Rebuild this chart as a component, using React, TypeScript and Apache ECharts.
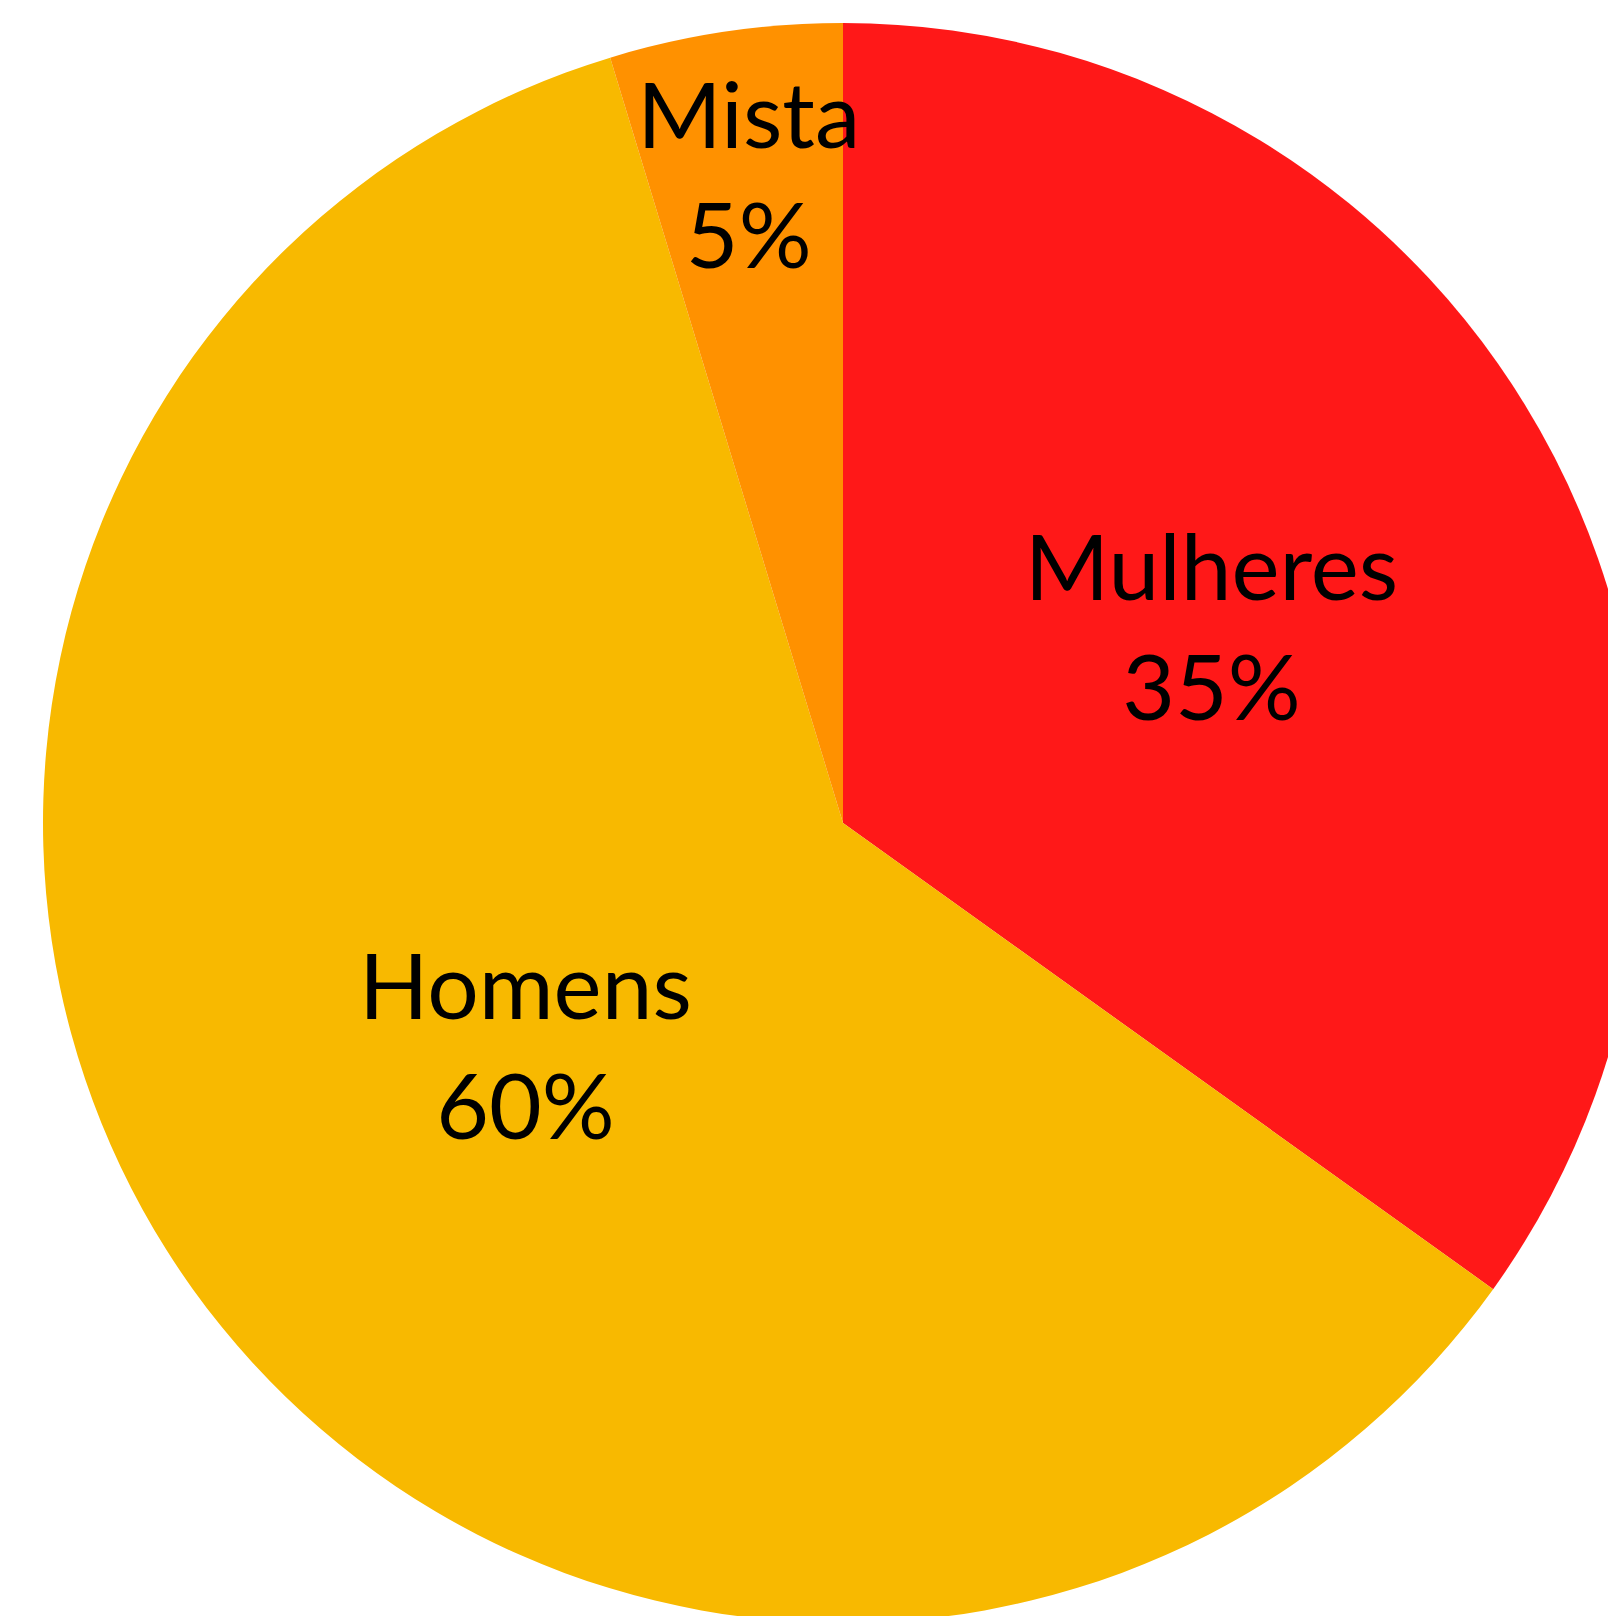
import React, { useEffect, useRef } from "react";
import * as echarts from "echarts";

const categories = ["Mulheres", "Homens", "Mista"];
const values = [34.9, 60.4, 4.7];
const percentLabels = ["35%", "60%", "5%"];
const colors = ["#FF1818", "#F8B900", "#FF9100"];

export default function App() {
  const ref = useRef<HTMLDivElement>(null);
  useEffect(() => {
    document.body.style.margin = "0";
    const chart = echarts.init(ref.current!, null, { renderer: "svg" });
    const data = categories.map((name, i) => {
      const item: any = { name, value: values[i], itemStyle: { color: colors[i] } };
      if (name === "Mista") {
        item.label = { offset: [-35, -252] };
      }
      return item;
    });
    chart.setOption({
      animation: false,
      backgroundColor: "#ffffff",
      series: [
        {
          type: "pie",
          center: [843, 823],
          radius: [0, 800],
          startAngle: 90,
          clockwise: true,
          silent: true,
          itemStyle: { borderWidth: 0 },
          label: {
            show: true,
            position: "inside",
            formatter: (p: any) => `${p.name}\n${percentLabels[p.dataIndex]}`,
            color: "#000000",
            fontFamily: "Lato",
            fontWeight: 400,
            fontSize: 91,
            lineHeight: 120,
            offset: [10, -14],
          },
          labelLine: { show: false },
          data,
        },
      ],
    });
    return () => chart.dispose();
  }, []);
  return <div ref={ref} style={{ width: 1608, height: 1616 }} />;
}
